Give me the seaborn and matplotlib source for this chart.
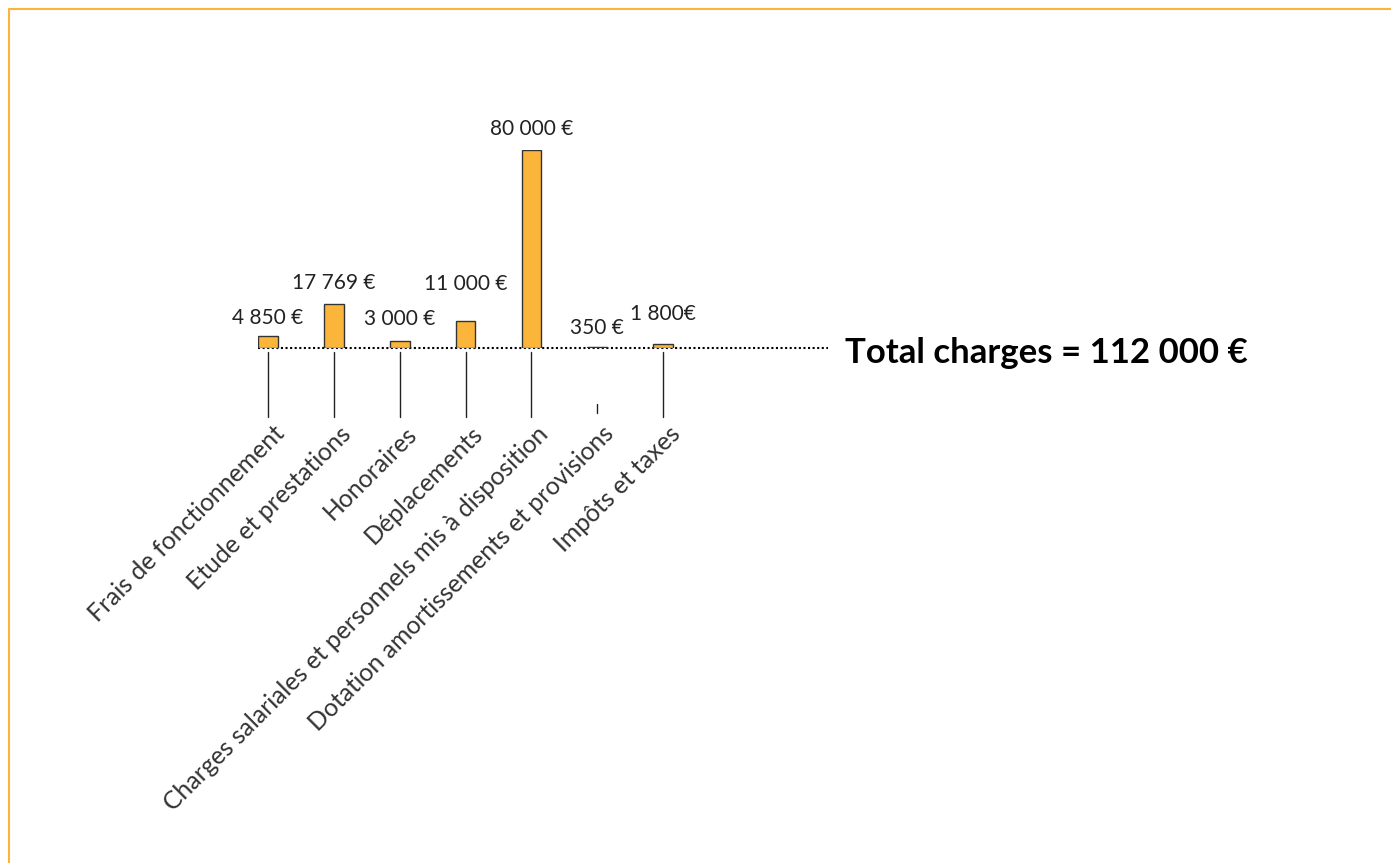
import seaborn as sns
import matplotlib.pyplot as plt
from matplotlib.lines import Line2D
from matplotlib.transforms import ScaledTranslation

categories = ["Frais de fonctionnement", "Etude et prestations", "Honoraires",
              "Déplacements", "Charges salariales et personnels mis à disposition",
              "Dotation amortissements et provisions", "Impôts et taxes"]
values = [4850, 17769, 3000, 11000, 80000, 350, 1800]
value_labels = ["4 850 €", "17 769 €", "3 000 €", "11 000 €", "80 000 €", "350 €", "1 800€"]
total_label = "Total charges = 112 000 €"

# label offsets above bar tops (pixels)
label_dy = [18, 21, 22, 37, 21, 19, 30]

sns.set_theme(style="white")
plt.rcParams["font.family"] = ["Lato", "DejaVu Sans"]

W, H = 1391, 863
fig = plt.figure(figsize=(W / 100, H / 100), dpi=100)
orange = "#FBB53B"

# axes: left 258px, right 828px, baseline y=348px, 80000 at y=150px
ax = fig.add_axes([258 / W, (H - 348) / H, (828 - 258) / W, 198 / H])
sns.barplot(x=categories, y=values, color=orange, edgecolor="#333333",
            linewidth=1, width=0.3, saturation=1, ax=ax)
ax.set_xlim(-0.15, 8.5)
ax.set_ylim(0, 80000)
ax.set_axis_off()
ax.axhline(0, color="black", lw=1.5, ls=(0, (1, 1.2)), clip_on=False, zorder=0)

for i, (v, lab) in enumerate(zip(values, value_labels)):
    off = ScaledTranslation(0, label_dy[i] / 100, fig.dpi_scale_trans)
    ax.text(i, v, lab, ha="center", va="center", fontsize=15,
            color="#222222", transform=ax.transData + off)

# tick lines below baseline
xt = ax.get_xaxis_transform()
for i in range(len(categories)):
    if i == 5:
        y0, y1 = -56 / 198, -65 / 198
    else:
        y0, y1 = -4 / 198, -69 / 198
    ax.plot([i, i], [y0, y1], color="#222222", lw=1, transform=xt, clip_on=False)
    off = ScaledTranslation(13 / 100, -82 / 100, fig.dpi_scale_trans)
    ax.text(i, 0, categories[i], rotation=45, rotation_mode="anchor",
            ha="right", va="center", fontsize=17.8, fontweight="normal",
            color="#333333", transform=xt + off)

off = ScaledTranslation(0, -5 / 100, fig.dpi_scale_trans)
ax.text(1.03, 0, total_label, transform=ax.transAxes + off, ha="left", va="center",
        fontsize=25, fontweight="bold", color="black")

# frame lines
fig.add_artist(Line2D([9 / W, 1], [1 - 9 / H, 1 - 9 / H], color=orange, lw=1.5))
fig.add_artist(Line2D([9 / W, 9 / W], [0, 1 - 9 / H], color=orange, lw=1.5))

fig.savefig("out.png", dpi=100, facecolor="white")
